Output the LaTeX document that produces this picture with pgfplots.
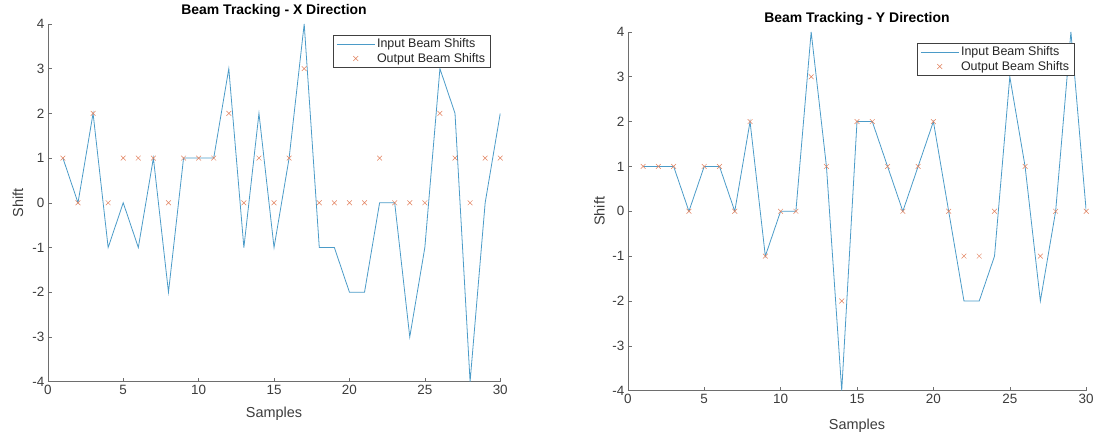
\documentclass[border=0pt]{standalone}
\usepackage{fontspec}
\setmainfont{Liberation Sans}
\usepackage{pgfplots}
\pgfplotsset{compat=1.18}
\definecolor{mblue}{RGB}{75,155,200}
\definecolor{morange}{RGB}{226,130,95}
\definecolor{axgray}{RGB}{110,110,110}
\definecolor{txtgray}{RGB}{60,60,60}

\pgfplotstableread{
x in out
1 1 1
2 0 0
3 2 2
4 -1 0
5 0 1
6 -1 1
7 1 1
8 -2 0
9 1 1
10 1 1
11 1 1
12 3 2
13 -1 0
14 2 1
15 -1 0
16 1 1
17 4 3
18 -1 0
19 -1 0
20 -2 0
21 -2 0
22 0 1
23 0 0
24 -3 0
25 -1 0
26 3 2
27 2 1
28 -4 0
29 0 1
30 2 1
}\xdata

\pgfplotstableread{
x in out
1 1 1
2 1 1
3 1 1
4 0 0
5 1 1
6 1 1
7 0 0
8 2 2
9 -1 -1
10 0 0
11 0 0
12 4 3
13 1 1
14 -4 -2
15 2 2
16 2 2
17 1 1
18 0 0
19 1 1
20 2 2
21 0 0
22 -2 -1
23 -2 -1
24 -1 0
25 3 nan
26 1 1
27 -2 -1
28 0 0
29 4 nan
30 0 0
}\ydata

\pgfplotsset{
  mystyle/.style={
    scale only axis,
    axis x line*=bottom, axis y line*=left,
    xmin=0, xmax=30, ymin=-4, ymax=4,
    xtick={0,5,...,30}, ytick={-4,-3,...,4},
    tick align=inside, major tick length=4pt,
    every tick/.style={axgray, line width=0.5pt},
    axis line style={axgray, line width=0.6pt},
    tick label style={font=\fontsize{13.5}{13.5}\selectfont, text=txtgray},
    /pgf/number format/assume math mode=true,
    label style={font=\fontsize{14.5}{14.5}\selectfont, text=txtgray},
    title style={font=\bfseries\fontsize{14}{14}\selectfont, anchor=center},
    xlabel={Samples}, ylabel={Shift},
    ylabel style={at={(axis description cs:-0.066,0.5)}, anchor=center},
    legend style={anchor=north east, draw=black!75, line width=0.5pt,
      font=\fontsize{12.5}{13}\selectfont, text=black!85,
      inner xsep=3pt, inner ysep=1.5pt, row sep=0pt, cells={anchor=west}},
    legend cell align=left,
  },
  inplot/.style={mblue, line width=0.8pt, no markers,
    legend image code/.code={\draw[##1] (0pt,0pt) -- (38pt,0pt);}},
  outplot/.style={morange, only marks, mark=x, mark size=3.4pt, mark options={line width=0.5pt},
    legend image code/.code={\draw[mark repeat=2, mark phase=2, ##1] plot coordinates {(0pt,0pt)(19pt,0pt)(38pt,0pt)};}},
}

\begin{document}
\begin{tikzpicture}
\path (0,0) rectangle (1097pt,440pt);

\begin{axis}[mystyle,
  at={(48pt,57pt)}, anchor=south west,
  width=454pt, height=359pt,
  title={Beam Tracking - X Direction},
  title style={at={(axis description cs:0.5,1.02)}},
  xlabel style={at={(axis description cs:0.5,-0.089)}, anchor=center},
  legend style={at={(axis description cs:0.978,0.969)}},
]
\addplot[inplot] table[x=x, y=in] {\xdata};
\addlegendentry{Input Beam Shifts}
\addplot[outplot] table[x=x, y=out] {\xdata};
\addlegendentry{Output Beam Shifts}
\end{axis}

\begin{axis}[mystyle,
  at={(630pt,48pt)}, anchor=south west,
  width=460pt, height=360pt,
  title={Beam Tracking - Y Direction},
  title style={at={(axis description cs:0.5,1.02)}},
  xlabel style={at={(axis description cs:0.5,-0.097)}, anchor=center},
  ylabel style={at={(axis description cs:-0.062,0.5)}},
  legend style={at={(axis description cs:0.974,0.969)}},
]
\addplot[inplot] table[x=x, y=in] {\ydata};
\addlegendentry{Input Beam Shifts}
\addplot[outplot] table[x=x, y=out] {\ydata};
\addlegendentry{Output Beam Shifts}
\end{axis}
\end{tikzpicture}
\end{document}
